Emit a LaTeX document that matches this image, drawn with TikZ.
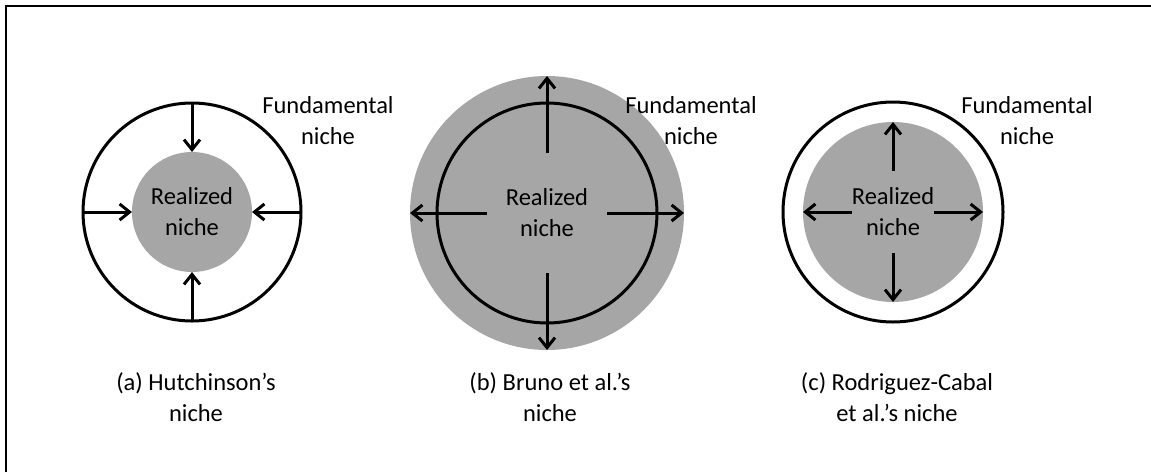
\documentclass[tikz,border=0pt]{standalone}
\usepackage{fontspec}
\setmainfont{Carlito}
\usetikzlibrary{arrows.meta}
\definecolor{nichegray}{HTML}{A6A6A6}
\tikzset{
  ring/.style={circle, draw=black, line width=3pt, inner sep=0pt, outer sep=0pt, fill=none},
  disc/.style={circle, fill=nichegray, inner sep=0pt, outer sep=0pt},
  arr/.style={line width=3pt, -{Straight Barb[length=10pt,width=16pt,line width=3pt]}},
  lbl/.style={align=center, inner sep=0pt, font=\fontsize{24.5}{31}\selectfont},
}
\begin{document}
\begin{tikzpicture}[x=1pt,y=-1pt]
\useasboundingbox (0,0) rectangle (1151,472);
\draw[line width=2pt] (6,472) -- (6,6) -- (1151,6);

% (a) Hutchinson
\node[disc, minimum size=120pt] (ain) at (192,212) {};
\node[ring, minimum size=218pt] (aout) at (192,212) {};
\draw[arr] (aout.north) -- (ain.north);
\draw[arr] (aout.south) -- (ain.south);
\draw[arr] (aout.west) -- (ain.west);
\draw[arr] (aout.east) -- (ain.east);
\node[lbl] (areal) at (192,212) {Realized\\niche};
\node[lbl] (afund) at (328,121) {Fundamental\\niche};
\node[lbl] (acap) at (196,397) {(a) Hutchinson’s\\niche};

% (b) Bruno
\node[disc, minimum size=274pt] (bout) at (547,213) {};
\node[ring, minimum size=220pt] (bring) at (547,213) {};
\coordinate (bn) at (547,153);
\coordinate (bs) at (547,273);
\coordinate (bw) at (487,213);
\coordinate (be) at (607,213);
\draw[arr] (bn) -- (bout.north);
\draw[arr] (bs) -- (bout.south);
\draw[arr] (bw) -- (bout.west);
\draw[arr] (be) -- (bout.east);
\node[lbl] (breal) at (547,213) {Realized\\niche};
\node[lbl] (bfund) at (691,121) {Fundamental\\niche};
\node[lbl] (bcap) at (550,397) {(b) Bruno et al.’s\\niche};

% (c) Rodriguez-Cabal
\node[disc, minimum size=180pt] (cin) at (893,212) {};
\node[ring, minimum size=220pt] (cout) at (893,212) {};
\coordinate (cn) at (893,171);
\coordinate (cs) at (893,253);
\coordinate (cw) at (852,212);
\coordinate (ce) at (934,212);
\draw[arr] (cn) -- (cin.north);
\draw[arr] (cs) -- (cin.south);
\draw[arr] (cw) -- (cin.west);
\draw[arr] (ce) -- (cin.east);
\node[lbl] (creal) at (893,212) {Realized\\niche};
\node[lbl] (cfund) at (1027,121) {Fundamental\\niche};
\node[lbl] (ccap) at (897,397) {(c) Rodriguez-Cabal\\et al.’s niche};
\end{tikzpicture}
\end{document}
